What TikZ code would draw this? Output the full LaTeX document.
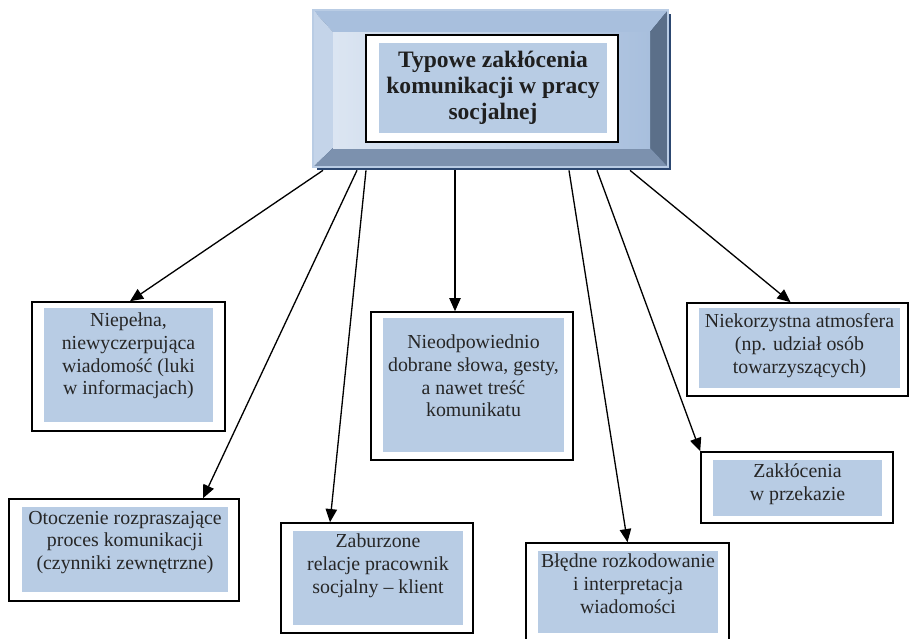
\documentclass[tikz,border=0pt]{standalone}
\usepackage{fontspec}
\setmainfont{Liberation Serif}
\usetikzlibrary{arrows.meta, calc, positioning}

\definecolor{boxblue}{HTML}{B8CCE4}
\definecolor{textgray}{HTML}{262626}
\definecolor{bevtop}{HTML}{A8BFDD}
\definecolor{bevleft}{HTML}{C4D4E9}
\definecolor{bevright}{HTML}{5B6F89}
\definecolor{bevbottom}{HTML}{7C91AE}
\definecolor{bevshadow}{HTML}{2C4770}

\begin{document}
\begin{tikzpicture}[x=0.02cm, y=-0.02cm,
    outer/.style={draw=black, line width=0.9pt, fill=white, inner sep=0pt},
    inner/.style={fill=boxblue, inner sep=0pt},
    txt/.style={inner sep=0pt, text=textgray, align=center, font=\fontsize{11.3}{12.9}\selectfont},
    arrow/.style={-{Triangle[length=7.5pt,width=6.5pt]}, line width=0.75pt}]
    \useasboundingbox (0,0) rectangle (910,639);

    % Title frame (bevel with shadow)
    \node[fill=bevshadow, inner sep=0pt, minimum width=7.08cm, minimum height=3.12cm] (frame) at (494,92) {};
    \fill[bevtop] (313,10) -- (668,10) -- (650,32) -- (333,32) -- cycle;
    \fill[bevleft] (313,10) -- (333,32) -- (333,148) -- (313,167) -- cycle;
    \fill[bevright] (668,10) -- (668,167) -- (650,148) -- (650,32) -- cycle;
    \fill[bevbottom] (313,167) -- (668,167) -- (650,148) -- (333,148) -- cycle;
    \shade[left color=bevleft!60!white, right color=bevtop] (333,32) rectangle (650,148);
    \draw[bevtop!80!white, line width=0.6pt] (313,10) rectangle (668,167);

    % Title
    \node[outer, minimum width=5.04cm, minimum height=2.14cm] (tout) at (492,88.5) {};
    \node[inner, minimum width=4.56cm, minimum height=1.8cm, align=center, text=black!88,
          font=\fontsize{13.4}{14.8}\selectfont\bfseries] (title) at (493,88)
          {Typowe zakłócenia\\komunikacji w pracy\\socjalnej};

    % Boxes
    \node[outer, minimum width=3.86cm, minimum height=2.58cm] (b1) at (128.5,366.5) {};
    \node[inner, minimum width=3.38cm, minimum height=2.28cm] (b1in) at (128.5,365) {};
    \node[txt, below=0.1cm of b1in.north] (b1txt) {Niepełna,\\niewyczerpująca\\wiadomość (luki\\w informacjach)};

    \node[outer, minimum width=4.04cm, minimum height=2.96cm] (b3) at (472,386) {};
    \node[inner, minimum width=3.62cm, minimum height=2.68cm] (b3in) at (473.5,385) {};
    \node[txt, below=0.34cm of b3in.north] (b3txt) {Nieodpowiednio\\dobrane słowa, gesty,\\a nawet treść\\komunikatu};

    \node[outer, minimum width=4.42cm, minimum height=1.86cm] (b4) at (797.5,349.5) {};
    \node[inner, minimum width=4.02cm, minimum height=1.6cm] (b4in) at (799.5,348) {};
    \node[txt, below=0.12cm of b4in.north] (b4txt) {Niekorzystna atmosfera\\(np. udział osób\\towarzyszących)};

    \node[outer, minimum width=4.6cm, minimum height=2.04cm] (b5) at (124,550) {};
    \node[inner, minimum width=4.12cm, minimum height=1.7cm] (b5in) at (125,549.5) {};
    \node[txt, below=0.08cm of b5in.north] (b5txt) {Otoczenie rozpraszające\\proces komunikacji\\(czynniki zewnętrzne)};

    \node[outer, minimum width=3.84cm, minimum height=2.2cm] (b6) at (377,578) {};
    \node[inner, minimum width=3.4cm, minimum height=1.88cm] (b6in) at (378,578) {};
    \node[txt, below=0.06cm of b6in.north] (b6txt) {Zaburzone\\relacje pracownik\\socjalny -- klient};

    \node[outer, minimum width=4.06cm, minimum height=2.34cm] (b7) at (627.5,601.5) {};
    \node[inner, minimum width=3.6cm, minimum height=1.64cm] (b7in) at (628,592) {};
    \node[txt, below=0.06cm of b7in.north] (b7txt) {Błędne rozkodowanie\\i interpretacja\\wiadomości};

    \node[outer, minimum width=3.84cm, minimum height=1.42cm] (b8) at (797,487.5) {};
    \node[inner, minimum width=3.38cm, minimum height=1.12cm] (b8in) at (797.5,488) {};
    \node[txt, below=0.08cm of b8in.north] (b8txt) {Zakłócenia\\w przekazie};

    % Arrows
    \draw[arrow] ($(frame.south)+(-171,0)$) -- ($(b1.north)+(1.5,0)$);
    \draw[arrow] ($(frame.south)+(-137,0)$) -- ($(b5.north)+(79,0)$);
    \draw[arrow] ($(frame.south)+(-128,0)$) -- ($(b6.north)+(-47,0)$);
    \draw[arrow] ($(frame.south)+(-39,0)$) -- ($(b3.north)+(-17,0)$);
    \draw[arrow] ($(frame.south)+(75,0)$) -- (b7.north);
    \draw[arrow] ($(frame.south)+(103,0)$) -- (b8.north west);
    \draw[arrow] ($(frame.south)+(136,0)$) -- ($(b4.north)+(-7,0)$);
\end{tikzpicture}
\end{document}
